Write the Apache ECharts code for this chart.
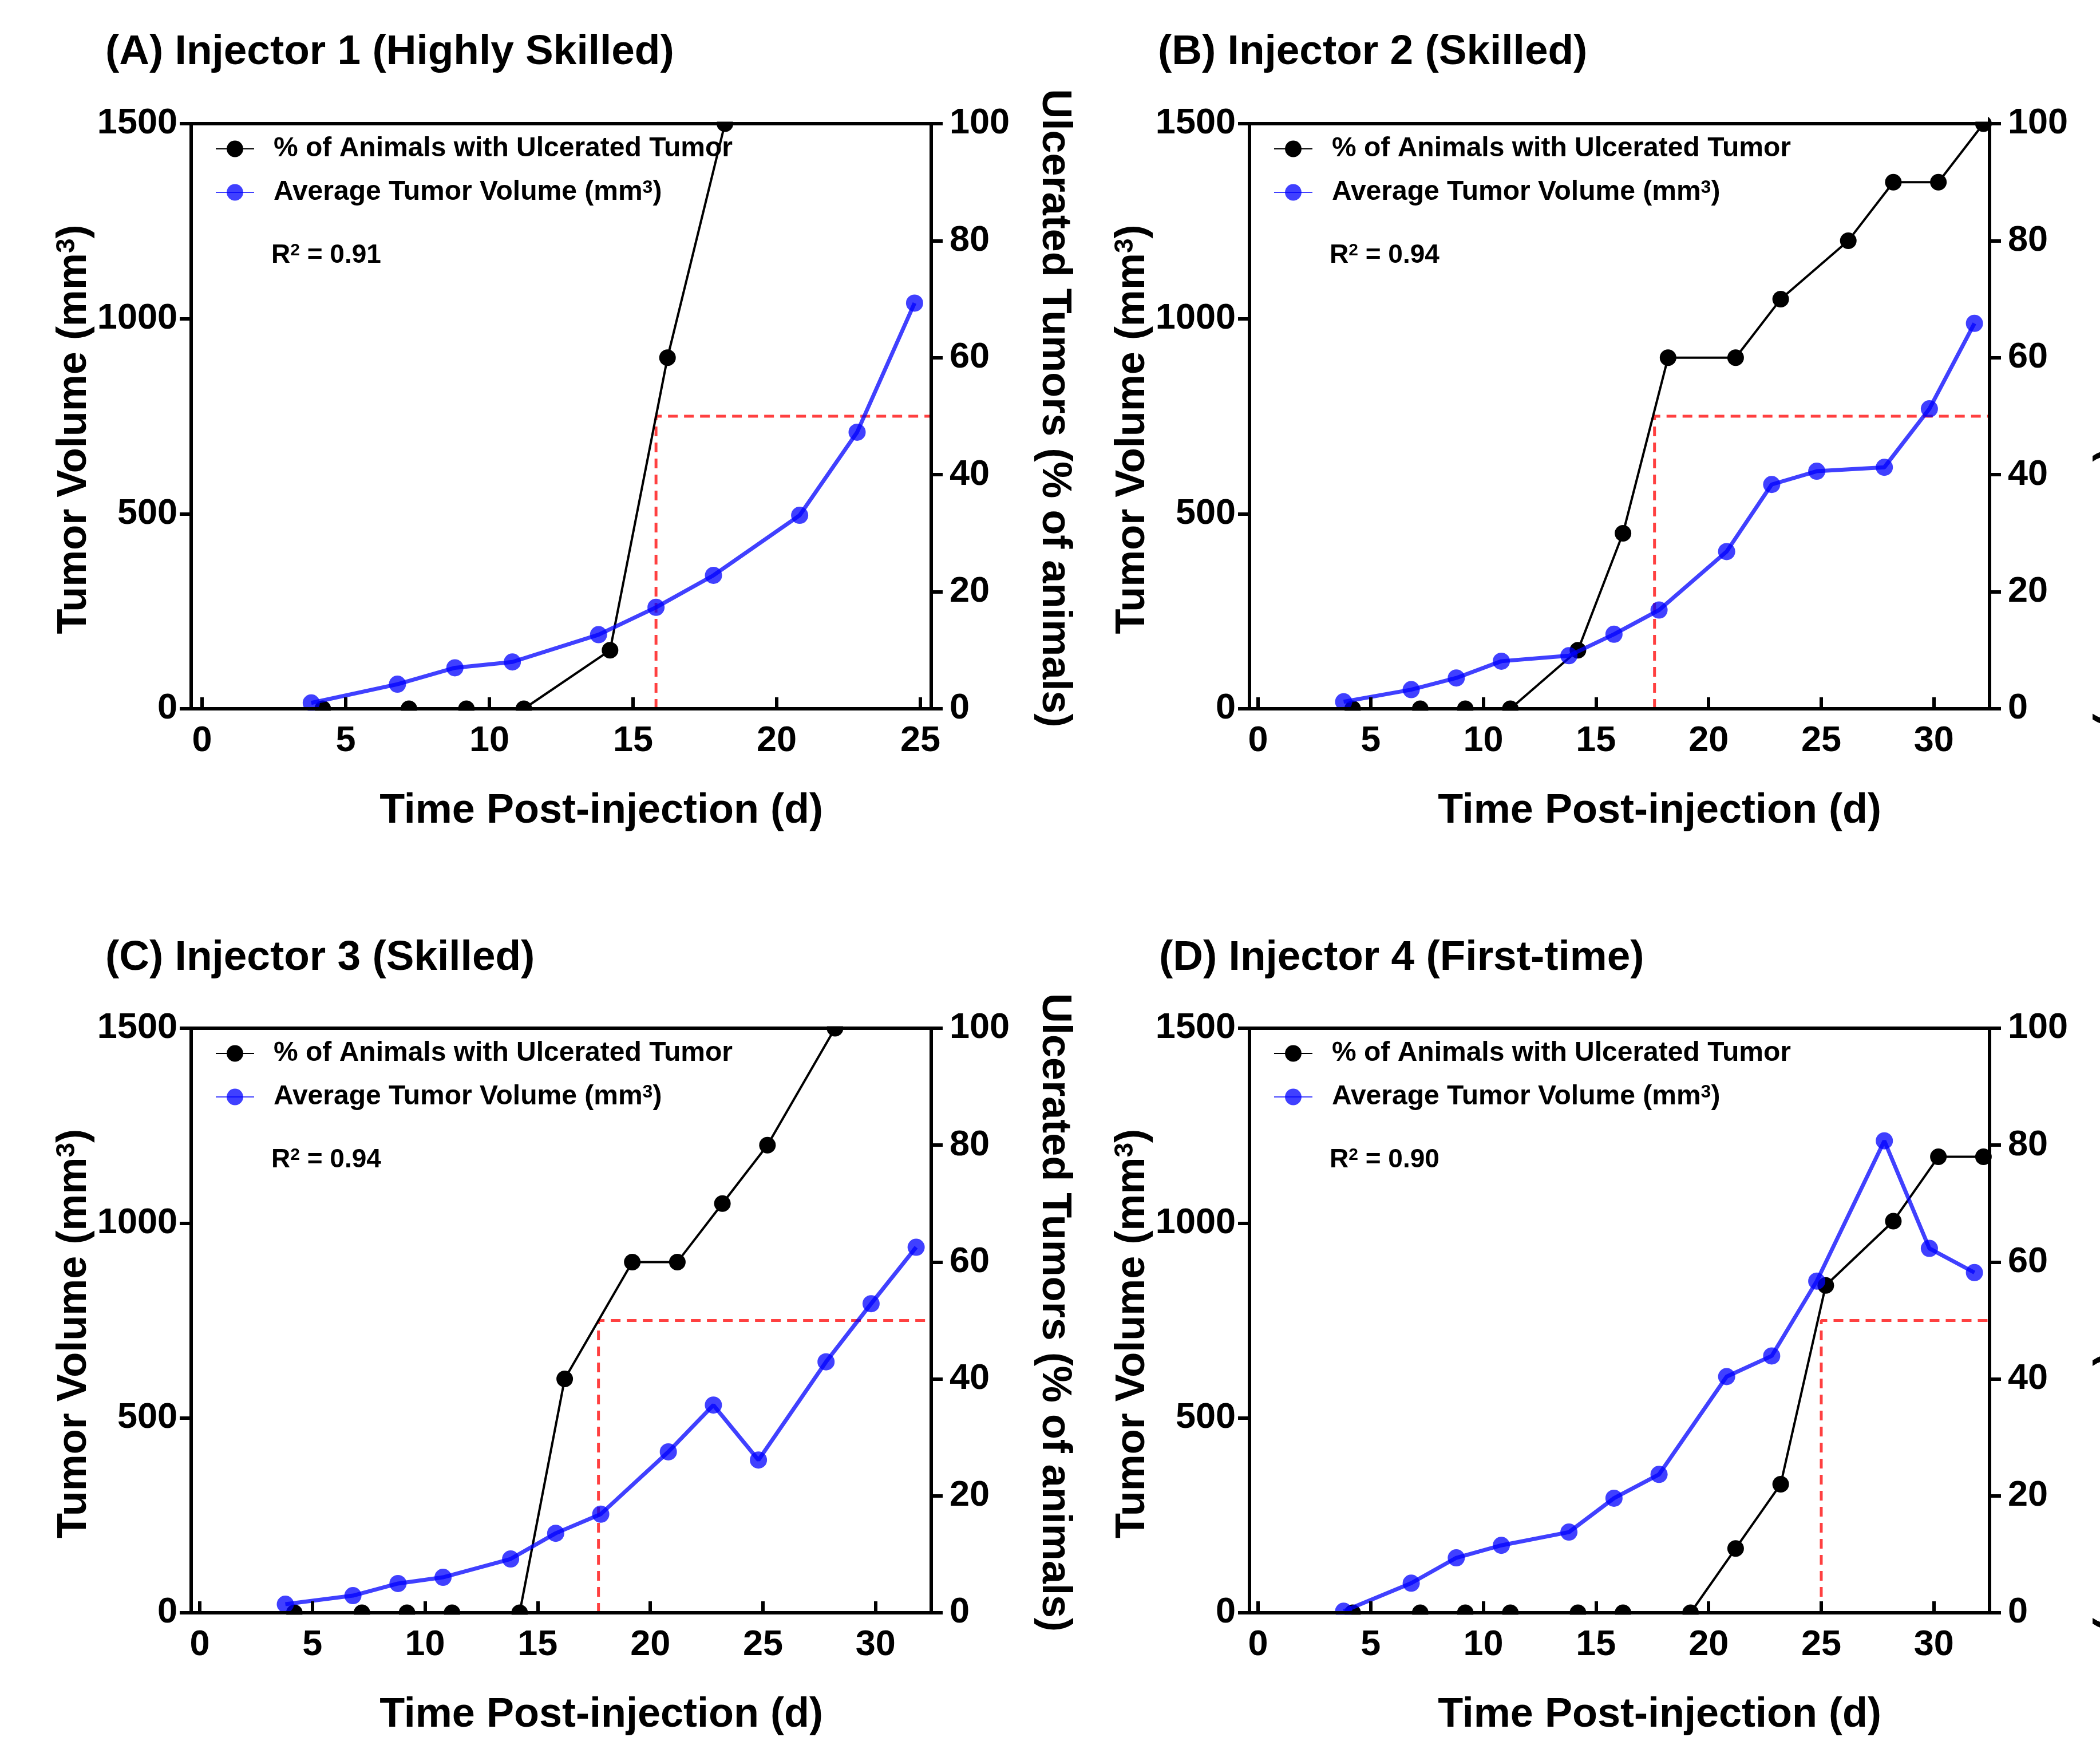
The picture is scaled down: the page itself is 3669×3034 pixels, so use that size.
<!DOCTYPE html>
<html><head><meta charset="utf-8">
<script src="https://cdn.jsdelivr.net/npm/echarts@6/dist/echarts.min.js"></script>
<style>html,body{margin:0;padding:0;background:#fff}#c{width:3669px;height:3034px}</style>
</head><body><div id="c"></div>
<script>
// ---------------- DATA ----------------
const panelTitles = ['(A) Injector 1 (Highly Skilled)', '(B) Injector 2 (Skilled)', '(C) Injector 3 (Skilled)', '(D) Injector 4 (First-time)'];
const rSquared = ['0.91', '0.94', '0.94', '0.90'];
const seriesNames = ['% of Animals with Ulcerated Tumor', 'Average Tumor Volume (mm³)'];
const xAxisTitle = 'Time Post-injection (d)';
const leftAxisTitle = 'Tumor Volume (mm³)';
const rightAxisTitle = 'Ulcerated Tumors (% of animals)';

const xTicksA = [0, 5, 10, 15, 20, 25];
const xTicksBCD = [0, 5, 10, 15, 20, 25, 30];
const xRangeA = [-0.38, 25.38];
const xRangeBCD = [-0.38, 32.47];
const volRange = [0, 1500], volInterval = 500;
const pctRange = [0, 100], pctInterval = 20;

// Panel A
const ulcerDaysA = [4.2, 7.2, 9.2, 11.2, 14.2, 16.2, 18.2];
const ulcerPctA  = [0, 0, 0, 0, 10, 60, 100];
const volDaysA   = [3.8, 6.8, 8.8, 10.8, 13.8, 15.8, 17.8, 20.8, 22.8, 24.8];
const volA       = [15, 63, 105, 120, 190, 260, 342, 496, 709, 1040];
// Panel B
const ulcerDaysB = [4.2, 7.2, 9.2, 11.2, 14.2, 16.2, 18.2, 21.2, 23.2, 26.2, 28.2, 30.2, 32.2];
const ulcerPctB  = [0, 0, 0, 0, 10, 30, 60, 60, 70, 80, 90, 90, 100];
const volDaysB   = [3.8, 6.8, 8.8, 10.8, 13.8, 15.8, 17.8, 20.8, 22.8, 24.8, 27.8, 29.8, 31.8];
const volB       = [18, 49, 79, 122, 136, 191, 253, 403, 575, 609, 619, 769, 988];
// Panel C
const ulcerDaysC = [4.2, 7.2, 9.2, 11.2, 14.2, 16.2, 19.2, 21.2, 23.2, 25.2, 28.2];
const ulcerPctC  = [0, 0, 0, 0, 0, 40, 60, 60, 70, 80, 100];
const volDaysC   = [3.8, 6.8, 8.8, 10.8, 13.8, 15.8, 17.8, 20.8, 22.8, 24.8, 27.8, 29.8, 31.8];
const volC       = [22, 44, 75, 91, 138, 204, 253, 413, 533, 392, 644, 793, 938];
// Panel D
const ulcerDaysD = [4.2, 7.2, 9.2, 11.2, 14.2, 16.2, 19.2, 21.2, 23.2, 25.2, 28.2, 30.2, 32.2];
const ulcerPctD  = [0, 0, 0, 0, 0, 0, 0, 11, 22, 56, 67, 78, 78];
const volDaysD   = [3.8, 6.8, 8.8, 10.8, 13.8, 15.8, 17.8, 20.8, 22.8, 24.8, 27.8, 29.8, 31.8];
const volD       = [4, 76, 141, 173, 207, 294, 355, 606, 659, 851, 1211, 935, 873];

// day at which 50% of animals had ulcerated tumours (red dashed guide)
const threshold50Day = [15.8, 17.6, 17.7, 25.0];
const thresholdPct = 50;

// ---------------- LAYOUT ----------------
const FONT = '"Liberation Sans", Arial, Helvetica, sans-serif';
const grids = [
  {left: 334, top: 216, width: 1293, height: 1022},
  {left: 2183, top: 216, width: 1293, height: 1022},
  {left: 334, top: 1796, width: 1293, height: 1021},
  {left: 2183, top: 1796, width: 1293, height: 1021}
];
const titlePos = [[184, 55], [2023, 55], [184, 1637], [2025, 1637]];

const panels = [
  {ud: ulcerDaysA, up: ulcerPctA, vd: volDaysA, v: volA, xt: xTicksA, xr: xRangeA},
  {ud: ulcerDaysB, up: ulcerPctB, vd: volDaysB, v: volB, xt: xTicksBCD, xr: xRangeBCD},
  {ud: ulcerDaysC, up: ulcerPctC, vd: volDaysC, v: volC, xt: xTicksBCD, xr: xRangeBCD},
  {ud: ulcerDaysD, up: ulcerPctD, vd: volDaysD, v: volD, xt: xTicksBCD, xr: xRangeBCD}
];
const zip = (a, b) => a.map((x, i) => [x, b[i]]);
const supify = s => s.replace('³', '{sup|3}');

const BLUE = 'rgba(0,0,255,0.75)';
const RED = 'rgba(255,30,30,0.85)';
const lineStyle = {color: '#000', width: 6};
const tickFont = {fontSize: 63, fontWeight: 'bold', color: '#000', fontFamily: FONT, formatter: v => String(v)};
const nameFont = {fontSize: 72, fontWeight: 'bold', color: '#000', fontFamily: FONT};
const supStyle = size => ({fontSize: size, fontWeight: 'bold', fontFamily: FONT, verticalAlign: 'top', color: '#000'});

const option = {
  animation: false,
  backgroundColor: '#fff',
  textStyle: {fontFamily: FONT},
  title: [], legend: [], grid: [], xAxis: [], yAxis: [], series: [], graphic: []
};

panels.forEach((p, i) => {
  const g = grids[i];
  option.grid.push(Object.assign({show: true, borderColor: '#000', borderWidth: 6, z: 10,
    containLabel: false, outerBoundsMode: 'none'}, g));

  option.title.push({
    text: panelTitles[i], left: titlePos[i][0], top: titlePos[i][1], padding: 0,
    textStyle: {fontSize: 73, fontWeight: 'bold', color: '#000', fontFamily: FONT}
  });
  option.title.push({
    text: 'R{sup|2} = ' + rSquared[i], left: g.left + 140, top: g.top + 207, padding: 0,
    textStyle: {fontSize: 46, fontWeight: 'bold', color: '#000', fontFamily: FONT, rich: {sup: supStyle(30)}}
  });

  option.legend.push({
    left: g.left + 42, top: g.top + 20, orient: 'vertical', padding: 0,
    itemWidth: 67, itemHeight: 36, itemGap: 28,
    data: seriesNames.slice(),
    formatter: n => '{gap|}' + supify(n),
    textStyle: {fontSize: 48, fontWeight: 'bold', color: '#000', fontFamily: FONT,
      rich: {gap: {width: 29}, sup: supStyle(32)}}
  });

  option.xAxis.push({
    gridIndex: i, type: 'value', min: p.xr[0], max: p.xr[1], z: 12,
    axisLine: {show: true, onZero: false, lineStyle},
    axisTick: {show: true, inside: true, length: 20, lineStyle, customValues: p.xt},
    axisLabel: Object.assign({margin: 25, customValues: p.xt}, tickFont),
    splitLine: {show: false},
    name: xAxisTitle, nameLocation: 'middle', nameGap: 143,
    nameTextStyle: Object.assign({padding: [0, 0, 0, 140]}, nameFont)
  });
  option.yAxis.push({
    gridIndex: i, type: 'value', position: 'left', min: volRange[0], max: volRange[1], interval: volInterval, z: 12,
    axisLine: {show: true, onZero: false, lineStyle},
    axisTick: {show: true, length: 20, lineStyle},
    axisLabel: Object.assign({margin: 24}, tickFont),
    splitLine: {show: false},
    name: supify(leftAxisTitle), nameLocation: 'middle', nameGap: 165,
    nameTextStyle: Object.assign({rich: {sup: supStyle(46)}, padding: [0, 46, 0, 0]}, nameFont)
  });
  option.yAxis.push({
    gridIndex: i, type: 'value', position: 'right', min: pctRange[0], max: pctRange[1], interval: pctInterval, z: 12,
    axisLine: {show: true, onZero: false, lineStyle},
    axisTick: {show: true, length: 20, lineStyle},
    axisLabel: Object.assign({margin: 32}, tickFont),
    splitLine: {show: false},
    name: rightAxisTitle, nameLocation: 'middle', nameGap: 179, nameRotate: -90,
    nameTextStyle: Object.assign({padding: [0, 28, 0, 0]}, nameFont)
  });

  option.series.push({
    type: 'line', name: '50% threshold', xAxisIndex: i, yAxisIndex: 2 * i + 1, silent: true,
    data: [[threshold50Day[i], pctRange[0]], [threshold50Day[i], thresholdPct], [p.xr[1], thresholdPct]],
    symbol: 'none', lineStyle: {color: RED, width: 5, type: [17, 11]}, z: 2
  });
  option.series.push({
    type: 'line', name: seriesNames[0], xAxisIndex: i, yAxisIndex: 2 * i + 1,
    data: zip(p.ud, p.up), symbol: 'circle', symbolSize: 29,
    itemStyle: {color: '#000'}, lineStyle: {color: '#000', width: 4}, z: 3
  });
  option.series.push({
    type: 'line', name: seriesNames[1], xAxisIndex: i, yAxisIndex: 2 * i,
    data: zip(p.vd, p.v), symbol: 'circle', symbolSize: 30,
    itemStyle: {color: BLUE}, lineStyle: {color: BLUE, width: 7}, z: 4
  });

  // white masks so markers are clipped at the plot frame (as in the original)
  option.graphic.push({type: 'rect', z: 8, silent: true,
    shape: {x: g.left + 3, y: g.top + g.height + 3.5, width: g.width - 6, height: 18}, style: {fill: '#fff'}});
  option.graphic.push({type: 'rect', z: 8, silent: true,
    shape: {x: g.left + 3, y: g.top - 21.5, width: g.width - 6, height: 18}, style: {fill: '#fff'}});
});

const chart = echarts.init(document.getElementById('c'), null, {renderer: 'canvas'});
chart.setOption(option);
</script></body></html>
